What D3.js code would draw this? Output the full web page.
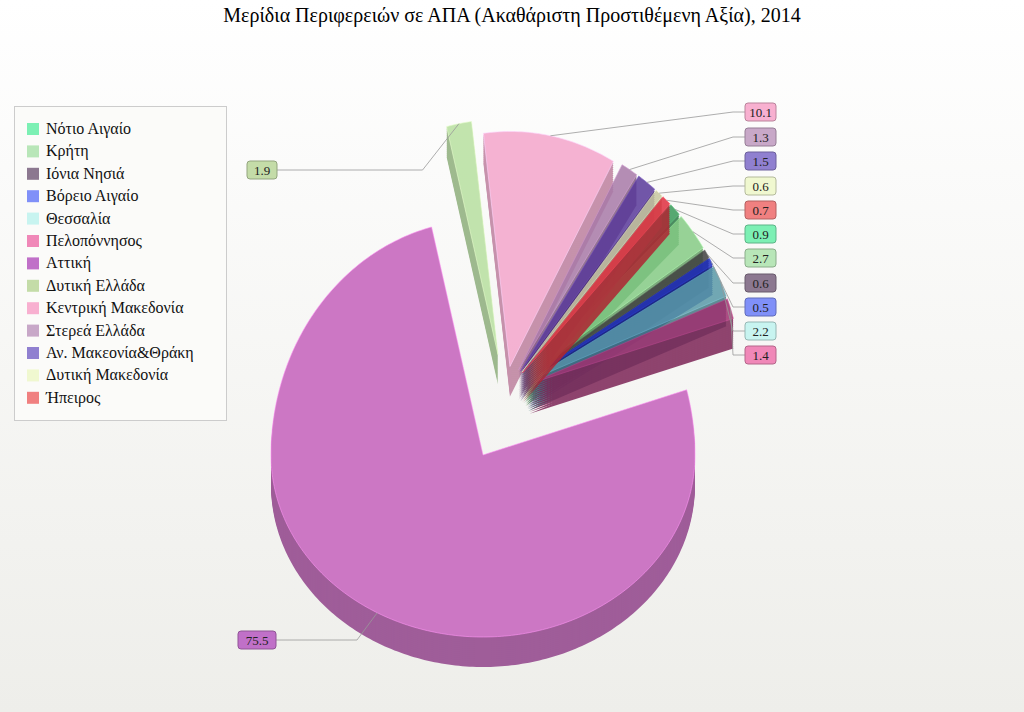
<!DOCTYPE html>
<html><head><meta charset="utf-8">
<script src="https://cdn.jsdelivr.net/npm/d3@7"></script>
<style>body{margin:0;}svg{display:block;}</style></head>
<body><svg id="c" width="1024" height="712"></svg>
<script>
const regions = ["Νότιο Αιγαίο","Κρήτη","Ιόνια Νησιά"," Βόρειο Αιγαίο","Θεσσαλία","Πελοπόννησος","Αττική","Δυτική Ελλάδα","Κεντρική Μακεδονία","Στερεά Ελλάδα","Αν. Μακεονία&Θράκη"," Δυτική Μακεδονία","Ήπειρος"];
const values = [0.9,2.7,0.6,0.5,2.2,1.4,75.5,1.9,10.1,1.3,1.5,0.6,0.7];
const legendColors = ["#7cf0b4","#b8e6b8","#8c7890","#8090f8","#c8f4f0","#f088b8","#c070c8","#c4dca8","#f8b0d0","#c8a8c8","#9080d0","#f0f8d0","#f08080"];
const sliceColors = ["#3a9a5a","#86cc86","#404040","#2030c0","#5a9aa8","#a03070","#cc77c4","#b8e0a0","#f4a6cc","#a87aa8","#5a3a9a","#c8c8a0","#e03040"];
const title = "Μερίδια Περιφερειών σε ΑΠΑ (Ακαθάριστη Προστιθέμενη Αξία), 2014";

const svg = d3.select("#c");
const defs = svg.append("defs");
const g = defs.append("linearGradient").attr("id","bg").attr("x1",0).attr("x2",0).attr("y1",0).attr("y2",1);
g.append("stop").attr("offset","0%").attr("stop-color","#ffffff");
g.append("stop").attr("offset","100%").attr("stop-color","#eeeeea");
svg.append("rect").attr("width",1024).attr("height",712).attr("fill","url(#bg)");
svg.append("text").attr("x",512).attr("y",22).attr("text-anchor","middle")
  .attr("font-family","Liberation Serif").attr("font-size",20).text(title);

const total = d3.sum(values);
const startOff = -2*Math.PI*(d3.sum(values.slice(0,7))/total) - 0.245;
const pie = d3.pie().sort(null).value(d=>d).startAngle(startOff).endAngle(startOff+2*Math.PI);
const arcs = pie(values);
const cx=505, cy=392, rx=212, depth=30;
const ryOf = a => Math.cos(a)>0 ? 235 : 182;
function pt(a, c){ const r=ryOf(a); return [c[0]+rx*Math.sin(a), c[1]-r*Math.cos(a)]; }
const offs = arcs.map((d,i)=>{
  if(i===6) return [-22,63];
  const m=(d.startAngle+d.endAngle)/2, e = i===7?38:26;
  return [e*Math.sin(m), -e*Math.cos(m)];
});
function slicePath(d, i, dy){
  const c=[cx+offs[i][0], cy+offs[i][1]+dy];
  const n=Math.max(4, Math.ceil((d.endAngle-d.startAngle)*60));
  const pts=[c];
  for(let k=0;k<=n;k++) pts.push(pt(d.startAngle+(d.endAngle-d.startAngle)*k/n, c));
  return d3.line()(pts)+"Z";
}
const pieG = svg.append("g");
const order = [6].concat(d3.range(13).filter(i=>i!==6));
order.forEach(i=>{
  const d=arcs[i];
  const col=d3.color(sliceColors[i]);
  const gg=pieG.append("g").attr("opacity", i===6?1:0.85);
  for(let k=depth;k>0;k-=2){
    gg.append("path").attr("d",slicePath(d,i,k)).attr("fill",col.darker(0.7).toString());
  }
  gg.append("path").attr("d",slicePath(d,i,0)).attr("fill",sliceColors[i])
    .attr("stroke",col.brighter(0.6).toString()).attr("stroke-width",0.6);
});

const boxPos = {7:[247,161,30],8:[745,103,31],9:[745,128,31],10:[745,152,31],11:[745,177,31],12:[745,201,31],
  0:[745,225,31],1:[745,249,31],2:[745,274,31],3:[745,298,31],4:[745,322,31],5:[745,346,31],6:[238,631,38]};
const lab = svg.append("g");
arcs.forEach((d,i)=>{
  const [bx,by,bw]=boxPos[i];
  const m=(d.startAngle+d.endAngle)/2;
  const p=pt(m,[cx+offs[i][0],cy+offs[i][1]]);
  const left = bx<400;
  const ex = left? bx+bw : bx, ey=by+9;
  lab.append("polyline").attr("points",`${p[0]},${p[1]} ${left?ex+(p[0]-ex)*0.8:ex-12},${ey} ${ex},${ey}`)
    .attr("fill","none").attr("stroke","#999").attr("stroke-width",0.8);
  lab.append("rect").attr("x",bx).attr("y",by).attr("width",bw).attr("height",18).attr("rx",3)
    .attr("fill",legendColors[i]).attr("stroke",d3.color(legendColors[i]).darker(0.8)).attr("stroke-width",1);
  lab.append("text").attr("x",bx+bw/2).attr("y",by+13.5).attr("text-anchor","middle")
    .attr("font-family","Liberation Serif").attr("font-size",13).attr("fill","#222").text(values[i]);
});

const lg=svg.append("g");
lg.append("rect").attr("x",14.5).attr("y",106.5).attr("width",212).attr("height",314).attr("fill","#fbfbf9").attr("stroke","#ccc");
regions.forEach((r,i)=>{
  const y=129+i*22.4;
  lg.append("rect").attr("x",27).attr("y",y-6).attr("width",12).attr("height",12).attr("fill",legendColors[i]);
  lg.append("text").attr("x",46).attr("y",y+5).attr("font-family","Liberation Serif").attr("font-size",16).attr("fill","#111").text(r);
});
</script></body></html>
